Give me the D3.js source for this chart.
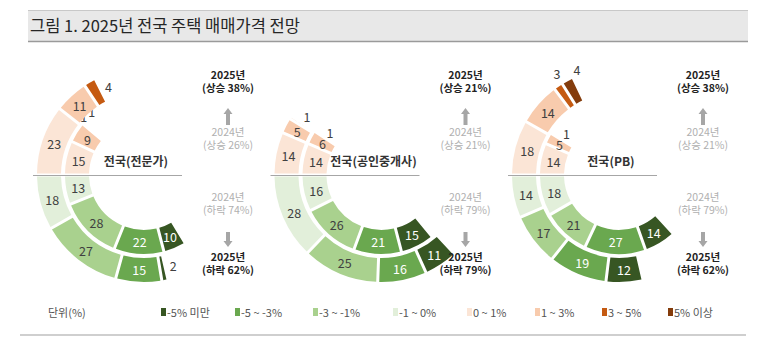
<!DOCTYPE html>
<html><head><meta charset="utf-8">
<script src="https://cdn.jsdelivr.net/npm/d3@7"></script>
<style>
body{margin:0;background:#fff;}
text{font-family:"Noto Sans CJK KR","Noto Sans",sans-serif;}
</style></head>
<body><svg id="c" width="765" height="355"></svg>
<script>
// ---- data ----
const title = "그림 1. 2025년 전국 주택 매매가격 전망";
const categories = ["-5% 미만","-5 ~ -3%","-3 ~ -1%","-1 ~ 0%","0 ~ 1%","1 ~ 3%","3 ~ 5%","5% 이상"];
const panels = ["전국(전문가)","전국(공인중개사)","전국(PB)"];
// rise segments in order: 0~1%, 1~3%, 3~5%, 5% 이상
const rise2024 = [[15,9,1,1],[14,6,1,0],[14,5,1,0]];
const rise2025 = [[23,11,4,0],[14,5,1,0],[18,14,3,4]];
// fall segments in order: -1~0%, -3~-1%, -5~-3%, -5% 미만
const fall2024 = [[13,28,22,10],[16,26,21,15],[18,21,27,14]];
const fall2025 = [[18,27,15,2],[28,25,16,11],[14,17,19,12]];
const riseTotal2024 = [26,21,21];
const riseTotal2025 = [38,21,38];
const fallTotal2024 = [74,79,79];
const fallTotal2025 = [62,79,62];
const unitLabel = "단위(%)";

// ---- styles ----
const colors = ["#375623","#6aa84f","#a9d18e","#e2efda","#fbe5d6","#f8cbad","#c55a11","#843c0c"];
const riseColorIdx = [4,5,6,7];
const fallColorIdx = [3,2,1,0];
const whiteText = new Set([0,1,6,7]);

const svg = d3.select("#c");
// title band
svg.append("rect").attr("x",28).attr("y",10).attr("width",720).attr("height",32).attr("fill","#e8e8e8");
svg.append("line").attr("x1",28).attr("x2",748).attr("y1",10.5).attr("y2",10.5).attr("stroke","#c8c8c8");
svg.append("line").attr("x1",28).attr("x2",748).attr("y1",41.5).attr("y2",41.5).attr("stroke","#9a9a9a").attr("stroke-width",1.5);
svg.append("text").attr("x",30).attr("y",32).attr("font-size",16.5).attr("fill","#262626").text(title);

// bottom rule
svg.append("line").attr("x1",20).attr("x2",746).attr("y1",335).attr("y2",335).attr("stroke","#cfcfcf").attr("stroke-width",2);

const cxs = d3.scalePoint().domain(panels).range([144,619]);
const cy = 175;
const rIn = [55,79], rOut = [83,107];
const ang = d3.scaleLinear().domain([0,100]).range([0, 166*Math.PI/180]);
const arc = d3.arc().padAngle(0.03).padRadius(100);
const toRad = Math.PI/180;

function drawRing(g, vals, cIdx, radii, dir){
  // dir: +1 rise (clockwise from 9 o'clock up), -1 fall
  let cum = 0;
  const segs = vals.map((v,i)=>{const s={v,i,c0:cum,c1:cum+v}; cum+=v; return s;}).filter(s=>s.v>0);
  const base = -Math.PI/2;
  let tail = [];
  for(let k=segs.length-1;k>=0;k--){ if(segs[k].v<=4) tail.unshift(segs[k]); else break; }
  const isInner = radii[0] === rIn[0];
  segs.forEach(s=>{
    const a0 = base + dir*ang(s.c0), a1 = base + dir*ang(s.c1);
    const d = {innerRadius:radii[0], outerRadius:radii[1], startAngle:Math.min(a0,a1), endAngle:Math.max(a0,a1)};
    g.append("path").attr("d",arc(d)).attr("fill",colors[cIdx[s.i]]);
    let lx, ly;
    const ti = tail.indexOf(s);
    if(ti<0){
      [lx,ly] = arc.centroid(d);
    } else {
      let a, r;
      if(tail.length===1){ a = base + dir*(ang(s.c1) + 5*toRad); r = (radii[0]+radii[1])/2; }
      else if(isInner){ a = base + dir*(ang((s.c0+s.c1)/2) + (3.5+4.5*ti)*toRad); r = radii[1]+5-2*ti; }
      else { a = base + dir*(ang((s.c0+s.c1)/2) + (3+4*ti)*toRad); r = radii[1]+12 - 5*ti; }
      lx = r*Math.sin(a); ly = -r*Math.cos(a);
    }
    g.append("text").attr("x",lx).attr("y",ly).attr("text-anchor","middle").attr("dominant-baseline","central")
      .attr("font-size",12.5).attr("fill", (ti<0 && whiteText.has(cIdx[s.i]))?"#ffffff":"#404040").text(s.v);
  });
}

function arrow(g, x, yTop, yBot, up){
  const hw=4.5, sw=2, hh=6;
  let p;
  if(up) p=`M${x},${yTop} L${x+hw},${yTop+hh} L${x+sw},${yTop+hh} L${x+sw},${yBot} L${x-sw},${yBot} L${x-sw},${yTop+hh} L${x-hw},${yTop+hh}Z`;
  else p=`M${x},${yBot} L${x+hw},${yBot-hh} L${x+sw},${yBot-hh} L${x+sw},${yTop} L${x-sw},${yTop} L${x-sw},${yBot-hh} L${x-hw},${yBot-hh}Z`;
  g.append("path").attr("d",p).attr("fill","#a6a6a6");
}

panels.forEach((name,p)=>{
  const cx = cxs(name);
  const g = svg.append("g").attr("transform",`translate(${cx},${cy})`);
  drawRing(g, rise2024[p], riseColorIdx, rIn, 1);
  drawRing(g, rise2025[p], riseColorIdx, rOut, 1);
  drawRing(g, fall2024[p], fallColorIdx, rIn, -1);
  drawRing(g, fall2025[p], fallColorIdx, rOut, -1);
  g.append("line").attr("x1",-111).attr("x2",38).attr("y1",0.5).attr("y2",0.5).attr("stroke","#a6a6a6").attr("stroke-width",1);
  g.append("text").attr("x",-8).attr("y",-15).attr("text-anchor","middle").attr("dominant-baseline","central")
    .attr("font-size",12).attr("font-weight","bold").attr("fill","#333").text(name);
  const tx = 84;
  const t2 = (y,l1,l2,bold)=>{
    const el = g.append("text").attr("x",tx).attr("y",y-cy).attr("text-anchor","middle")
      .attr("font-size",10.5).attr("font-weight",bold?"bold":"normal").attr("fill",bold?"#222":"#b0b0b0");
    el.append("tspan").attr("x",tx).attr("dy",0).text(l1);
    el.append("tspan").attr("x",tx).attr("dy",13).text(l2);
  };
  t2(79,"2025년",`(상승 ${riseTotal2025[p]}%)`,true);
  arrow(g, tx, 108-cy, 125-cy, true);
  t2(136,"2024년",`(상승 ${riseTotal2024[p]}%)`,false);
  t2(201,"2024년",`(하락 ${fallTotal2024[p]}%)`,false);
  arrow(g, tx, 232-cy, 247-cy, false);
  t2(261,"2025년",`(하락 ${fallTotal2025[p]}%)`,true);
});

// legend
const lg = svg.append("g");
lg.append("text").attr("x",48).attr("y",312).attr("dominant-baseline","central").attr("font-size",11).attr("fill","#555").text(unitLabel);
const lx = d3.scaleOrdinal().domain(categories).range([161,235,313,393,467,535,602,668]);
categories.forEach((c,i)=>{
  lg.append("rect").attr("x",lx(c)).attr("y",308).attr("width",5).attr("height",8).attr("fill",colors[i]);
  lg.append("text").attr("x",lx(c)+6).attr("y",312).attr("dominant-baseline","central").attr("font-size",11).attr("fill","#555").text(c);
});
</script></body></html>
